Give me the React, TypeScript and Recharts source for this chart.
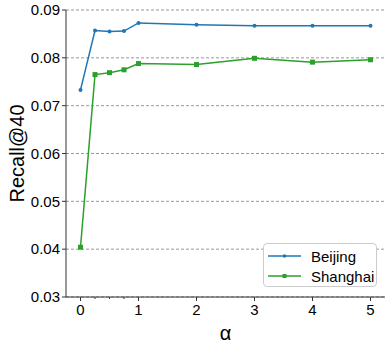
import React from "react";
import {
  LineChart,
  Line,
  XAxis,
  YAxis,
  CartesianGrid,
} from "recharts";

// alpha values on the x axis
const alphas = [0, 0.25, 0.5, 0.75, 1, 2, 3, 4, 5];
// Recall@40 per city
const beijing = [0.0733, 0.0857, 0.0855, 0.0856, 0.0873, 0.0869, 0.0867, 0.0867, 0.0867];
const shanghai = [0.0404, 0.0765, 0.0769, 0.0775, 0.0788, 0.0786, 0.0799, 0.0791, 0.0796];

const xTicks = [0, 0.25, 0.5, 0.75, 1, 2, 3, 4, 5];
const yTicks = [0.03, 0.04, 0.05, 0.06, 0.07, 0.08, 0.09];

const BLUE = "#1f77b4";
const GREEN = "#2ca02c";
const AXIS = "#333";
const FONT = "'Liberation Sans', Arial, sans-serif";

const data = alphas.map((a, i) => ({
  alpha: a,
  Beijing: beijing[i],
  Shanghai: shanghai[i],
}));

// major ticks get labels, the quarter steps only a short mark
const XTick = (props: any) => {
  const { x, y, payload } = props;
  const major = Number.isInteger(payload.value);
  return (
    <g>
      <line x1={x} x2={x} y1={y - 8} y2={y - 8 + (major ? 4 : 2)} stroke={AXIS} />
      {major && (
        <text x={x} y={y + 10} textAnchor="middle" fontSize={15} fill="#000" fontFamily={FONT}>
          {payload.value}
        </text>
      )}
    </g>
  );
};

const Square = (props: any) => {
  const { cx, cy } = props;
  if (cx == null || cy == null) return null;
  return <rect x={cx - 2.5} y={cy - 2.5} width={5} height={5} fill={GREEN} />;
};

const YLabel = (props: any) => {
  const { viewBox } = props;
  const cy = viewBox.y + viewBox.height / 2;
  return (
    <text
      x={17}
      y={cy}
      transform={`rotate(-90 17 ${cy})`}
      textAnchor="middle"
      dominantBaseline="central"
      fontSize={20}
      fill="#000"
      fontFamily={FONT}
    >
      Recall@40
    </text>
  );
};

const series = [
  { name: "Beijing", color: BLUE, sq: false },
  { name: "Shanghai", color: GREEN, sq: true },
];

const LegendBox = () => (
  <div
    style={{
      position: "absolute",
      left: 263,
      top: 243,
      width: 114,
      height: 44,
      border: "1px solid #ccc",
      borderRadius: 4,
      background: "#fff",
      padding: "2px 0",
      fontFamily: FONT,
      fontSize: 15,
      boxSizing: "border-box",
    }}
  >
    {series.map((s) => (
      <div key={s.name} style={{ display: "flex", alignItems: "center", height: 20 }}>
        <svg width={47} height={10}>
          <line x1={4} x2={37} y1={5} y2={5} stroke={s.color} strokeWidth={1.5} />
          {s.sq ? (
            <rect x={18.5} y={3} width={4} height={4} fill={s.color} />
          ) : (
            <circle cx={20.5} cy={5} r={1.8} fill={s.color} />
          )}
        </svg>
        <span>{s.name}</span>
      </div>
    ))}
  </div>
);

export default function App() {
  return (
    <div style={{ position: "absolute", left: 0, top: 0, width: 390, height: 344, background: "#fff" }}>
      <LineChart
        width={390}
        height={344}
        data={data}
        margin={{ top: 10, right: 5, bottom: 0, left: 0 }}
      >
        <CartesianGrid vertical={false} stroke="#999" strokeDasharray="3 2" />
        <XAxis
          dataKey="alpha"
          type="number"
          domain={[-0.25, 5.25]}
          ticks={xTicks}
          interval={0}
          stroke={AXIS}
          tickLine={false}
          tick={<XTick />}
          height={47}
          label={{ value: "α", position: "insideBottom", offset: 4, fontSize: 20, fill: "#000", fontFamily: FONT }}
        />
        <XAxis xAxisId="top" orientation="top" type="number" domain={[-0.25, 5.25]} tick={false} tickLine={false} stroke={AXIS} height={0} />
        <YAxis
          type="number"
          domain={[0.03, 0.09]}
          ticks={yTicks}
          interval={0}
          tickFormatter={(v: number) => v.toFixed(2)}
          stroke={AXIS}
          tickSize={4}
          width={66}
          tick={{ fontSize: 15, fill: "#000", fontFamily: FONT }}
          label={<YLabel />}
        />
        <YAxis yAxisId="right" orientation="right" tick={false} tickLine={false} stroke={AXIS} width={0} />
        <Line
          dataKey="Beijing"
          stroke={BLUE}
          strokeWidth={1.5}
          dot={{ r: 2, fill: BLUE, stroke: BLUE, strokeWidth: 0 }}
          isAnimationActive={false}
        />
        <Line
          dataKey="Shanghai"
          stroke={GREEN}
          strokeWidth={1.5}
          dot={<Square />}
          isAnimationActive={false}
        />
      </LineChart>
      <LegendBox />
    </div>
  );
}
